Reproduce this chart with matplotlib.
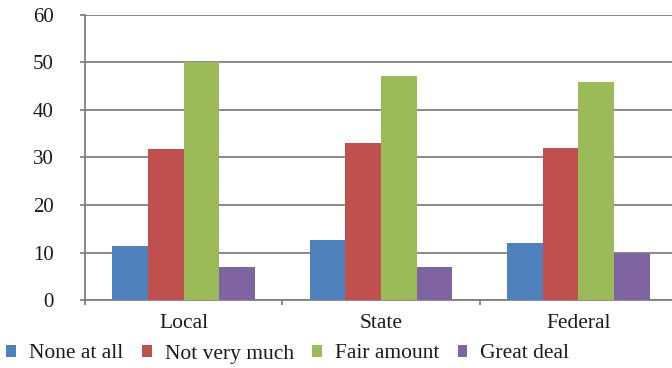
import matplotlib.pyplot as plt
import numpy as np
from matplotlib.patches import Patch
from matplotlib.ticker import FixedLocator

categories = ['Local', 'State', 'Federal']
series = ['None at all', 'Not very much', 'Fair amount', 'Great deal']
none_at_all = [11.3, 12.7, 12.1]
not_very_much = [31.8, 33.1, 32.0]
fair_amount = [50.0, 47.2, 45.9]
great_deal = [6.9, 7.0, 9.8]
yticks = [0, 10, 20, 30, 40, 50, 60]

colors = ['#4F81BD', '#C0504D', '#9BBB59', '#8064A2']
grid_col = '#808080'
text_col = '#1a1a1a'

plt.rcParams['font.family'] = 'serif'
plt.rcParams['font.serif'] = ['Liberation Serif', 'DejaVu Serif']

fig = plt.figure(figsize=(6.72, 3.68), dpi=100)
ax = fig.add_axes([85 / 672, 68 / 368, 592 / 672, 285 / 368])

x = np.arange(len(categories))
w = 0.181
values = [none_at_all, not_very_much, fair_amount, great_deal]
for i, (vals, col) in enumerate(zip(values, colors)):
    ax.bar(x + (i - 1.5) * w, vals, width=w, color=col, zorder=3)

ax.set_xlim(-0.5, 2.5)
ax.set_ylim(0, 60)
ax.set_yticks(yticks)
ax.yaxis.grid(True, color=grid_col, linewidth=1.3, zorder=0)
ax.tick_params(axis='y', length=3.6, width=1.3, color=grid_col, pad=19,
               labelsize=15, labelcolor=text_col)

ax.set_xticks(x)
ax.set_xticklabels(categories)
ax.xaxis.set_minor_locator(FixedLocator([-0.5, 0.5, 1.5, 2.5]))
ax.tick_params(axis='x', which='major', length=0, pad=10,
               labelsize=15.5, labelcolor=text_col)
ax.tick_params(axis='x', which='minor', length=3.6, width=1.3, color=grid_col)

for side in ['top', 'right']:
    ax.spines[side].set_visible(False)
for side in ['left', 'bottom']:
    ax.spines[side].set_color(grid_col)
    ax.spines[side].set_linewidth(1.3)

handles = [Patch(facecolor=c, edgecolor='none') for c in colors]
fig.legend(handles, series, loc='center left', bbox_to_anchor=(0.0, 14 / 368),
           ncol=4, frameon=False, fontsize=15.5, handlelength=0.46,
           handleheight=0.46, handletextpad=0.6, columnspacing=0.85,
           borderaxespad=0, borderpad=0.3, labelcolor=text_col)

fig.savefig('out.png', dpi=100)
